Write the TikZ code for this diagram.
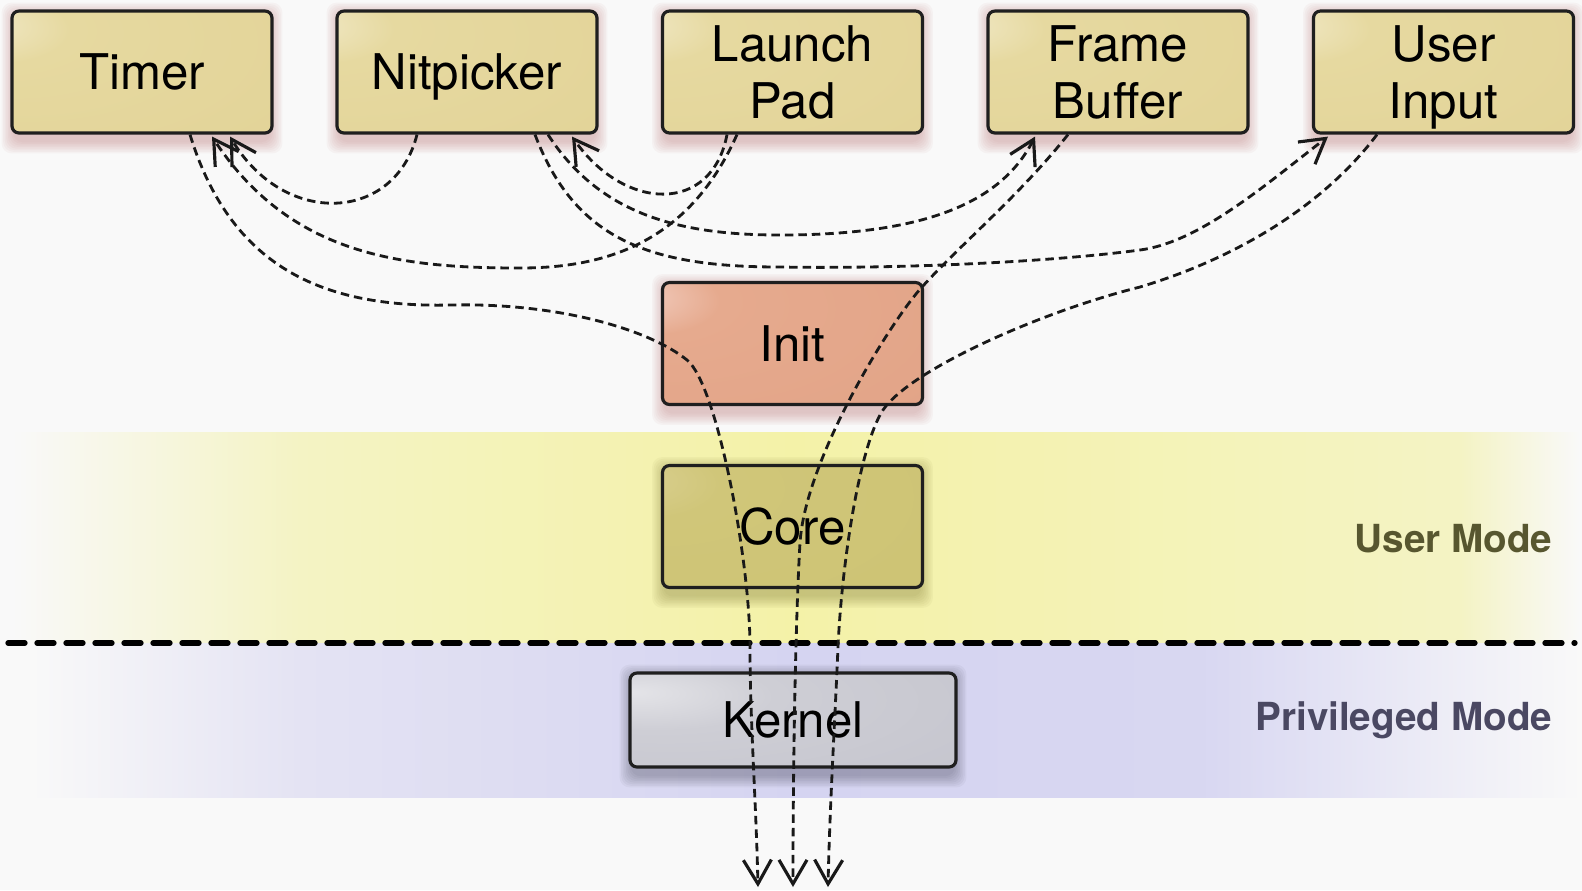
\documentclass[tikz,border=0pt]{standalone}
\usepackage{fontspec}
\setmainfont{TeX Gyre Heros}
\usetikzlibrary{arrows.meta,calc}
\definecolor{bg}{HTML}{F9F9F9}
\definecolor{bandY}{HTML}{F4F2A8}
\definecolor{bandYl}{HTML}{F4F3C4}
\definecolor{bandP}{HTML}{D5D4F1}
\definecolor{bandPl}{HTML}{E4E3F3}
\definecolor{yHi}{HTML}{F1E9C8}
\definecolor{yMid}{HTML}{E6D9A0}
\definecolor{yBot}{HTML}{DECD8E}
\definecolor{iHi}{HTML}{F3D0C4}
\definecolor{iMid}{HTML}{E6AA8E}
\definecolor{iBot}{HTML}{DD9C7F}
\definecolor{cHi}{HTML}{DAD092}
\definecolor{cMid}{HTML}{D0C679}
\definecolor{cBot}{HTML}{CBC16E}
\definecolor{kHi}{HTML}{E4E4E8}
\definecolor{kMid}{HTML}{CECED5}
\definecolor{kBot}{HTML}{B7B7C3}
\definecolor{umText}{HTML}{57562F}
\definecolor{pmText}{HTML}{4A4862}
\definecolor{shPink}{HTML}{B86A6A}
\definecolor{shOlive}{HTML}{7A7430}
\definecolor{shGray}{HTML}{404050}
\pgfdeclareradialshading{yshade}{\pgfpoint{-32bp}{20bp}}{color(0bp)=(yHi);color(14bp)=(yMid);color(110bp)=(yBot)}
\pgfdeclareradialshading{ishade}{\pgfpoint{-32bp}{20bp}}{color(0bp)=(iHi);color(14bp)=(iMid);color(110bp)=(iBot)}
\pgfdeclareradialshading{cshade}{\pgfpoint{-32bp}{20bp}}{color(0bp)=(cHi);color(14bp)=(cMid);color(110bp)=(cBot)}
\pgfdeclareradialshading{kshade}{\pgfpoint{-25bp}{15bp}}{color(0bp)=(kHi);color(18bp)=(kMid);color(110bp)=(kBot)}
\pgfdeclarelayer{bglayer}
\pgfdeclarelayer{shadowlayer}
\pgfsetlayers{bglayer,shadowlayer,main}
\newcommand{\softshadow}[2]{%
  \foreach \k in {1,...,8}{%
    \fill[#2, opacity=0.05, rounded corners=1mm]
      ($(#1.north west)+(4-1.6*\k,6-1.6*\k)$) rectangle ($(#1.south east)+(-4+1.6*\k,6+1.6*\k)$);
  }}
\tikzset{
  box/.style={draw=black!88, line width=0.9pt, rounded corners=0.7mm, inner sep=0pt,
    minimum width=26mm, minimum height=12.2mm, align=center, text depth=0pt,
    font=\fontsize{14}{16.4}\selectfont, shade},
  ybox/.style={box, shading=yshade},
  ibox/.style={box, shading=ishade},
  cbox/.style={box, shading=cshade},
  kbox/.style={box, minimum width=32.6mm, minimum height=9.4mm, shading=kshade},
  conn/.style={draw=black!90, line width=0.8pt, dash pattern=on 0.85mm off 0.5mm,
    -{Straight Barb[length=2.4mm,width=2.8mm,line width=0.9pt]}},
  sepline/.style={draw=black, line width=1.5pt, line cap=round, dash pattern=on 1.7mm off 1.2mm},
  modelabel/.style={anchor=base east, inner sep=0pt, font=\bfseries\fontsize{11}{13}\selectfont}
}
\begin{document}
\begin{tikzpicture}[x=0.1mm,y=-0.1mm]
\useasboundingbox (0,0) rectangle (1582,890);
\begin{pgfonlayer}{bglayer}
\fill[bg] (0,0) rectangle (1582,890);
\shade[left color=bg, right color=bandYl] (12,432) rectangle (300,643);
\shade[left color=bandYl, right color=bandY] (299,432) rectangle (793,643);
\shade[left color=bandY, right color=bandYl] (792,432) rectangle (1461,643);
\shade[left color=bandYl, right color=bg] (1460,432) rectangle (1580,643);
\shade[left color=bg, right color=bandPl] (30,643) rectangle (300,797);
\shade[left color=bandPl, right color=bandP] (299,643) rectangle (793,797);
\shade[left color=bandP, right color=bandP!80!bandPl] (792,643) rectangle (1201,797);
\shade[left color=bandP!80!bandPl, right color=bg] (1200,643) rectangle (1582,797);
\end{pgfonlayer}
% separator
\coordinate (sepL) at (8,643);
\coordinate (sepR) at (1575,643);
\draw[sepline] (sepL) -- (sepR);
% nodes
\node[ybox] (timer) at (142,72) {Timer};
\node[ybox] (nit) at (467,72) {Nitpicker};
\node[ybox] (lp) at (792.5,72) {Launch\\Pad};
\node[ybox] (fb) at (1118,72) {Frame\\Buffer};
\node[ybox] (ui) at (1443.5,72) {User\\Input};
\node[ibox] (init) at (792.5,343.5) {Init};
\node[cbox] (core) at (792.5,526.5) {Core};
\node[kbox] (kernel) at (793,720) {Kernel};
\node[modelabel, text=umText] (um) at (1553,552) {User Mode};
\node[modelabel, text=pmText] (pm) at (1553,730) {Privileged Mode};
% shadows
\begin{pgfonlayer}{shadowlayer}
\softshadow{timer}{shPink}
\softshadow{nit}{shPink}
\softshadow{lp}{shPink}
\softshadow{fb}{shPink}
\softshadow{ui}{shPink}
\softshadow{init}{shPink}
\softshadow{core}{shOlive}
\softshadow{kernel}{shGray}
\end{pgfonlayer}
% free ends
\coordinate (e1) at (758,887);
\coordinate (e2) at (793,887);
\coordinate (e3) at (828,887);
% connectors
\draw[conn] ($(nit.south)+(-50,0)$) .. controls (395,222) and (285,228) .. ($(timer.south)+(88,2)$);
\draw[conn] ($(lp.south)+(-55.5,0)$) .. controls (690,240) and (610,268) .. (520,268)
  .. controls (400,268) and (290,255) .. ($(timer.south)+(70,2)$);
\draw[conn] ($(lp.south)+(-65.5,0)$) .. controls (712,214) and (625,212) .. ($(nit.south)+(105,2)$);
\draw[conn] ($(nit.south)+(81,0)$) .. controls (600,215) and (680,235) .. (780,235)
  .. controls (920,235) and (1000,205) .. ($(fb.south)+(-83,2)$);
\draw[conn] ($(nit.south)+(68,0)$) .. controls (575,240) and (650,267) .. (780,267)
  .. controls (900,269) and (1050,262) .. (1140,250)
  .. controls (1200,242) and (1265,185) .. ($(ui.south)+(-115.5,2)$);
\draw[conn] ($(timer.south)+(48,0)$) .. controls (230,265) and (320,308) .. (450,305)
  .. controls (560,302.5) and (650,330) .. (687,360)
  .. controls (717,384) and (750,560) .. (750,647)
  .. controls (750,720) and (756,800) .. (e1);
\draw[conn] ($(fb.south)+(-50,0)$) .. controls (1020,195) and (960,245) .. (922,287)
  .. controls (890,322) and (805,460) .. (800,543)
  .. controls (796,610) and (793,750) .. (e2);
\draw[conn] ($(ui.south)+(-66.5,0)$) .. controls (1320,210) and (1230,260) .. (1140,287)
  .. controls (1040,312) and (910,370) .. (883,410)
  .. controls (860,445) and (842,560) .. (838,647)
  .. controls (835,720) and (830,800) .. (e3);
\end{tikzpicture}
\end{document}
